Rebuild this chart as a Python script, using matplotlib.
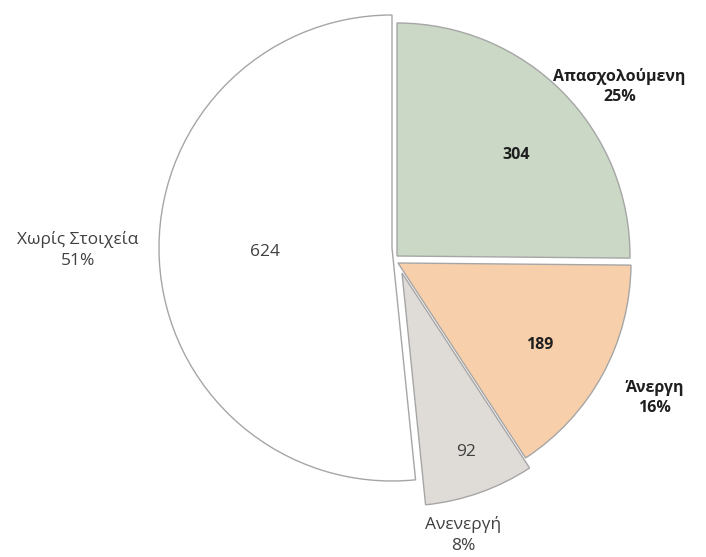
import numpy as np
import matplotlib
matplotlib.use('Agg')
import matplotlib.pyplot as plt

# ── Data ──────────────────────────────────────────────────────────────────────
categories = ['Απασχολούμενη', 'Άνεργη', 'Ανενεργή', 'Χωρίς Στοιχεία']
counts     = [304, 189, 92, 624]
percents   = ['25%', '16%', '8%', '51%']

# ── Style / layout ────────────────────────────────────────────────────────────
colors = ['#CAD8C5', '#F7CFAB', '#DFDBD7', '#FFFFFF']
bold   = [True, True, False, False]

R = 233.0                       # pie radius in pixels
base = (397, 256)               # pie centre in pixels (from top-left)
# slice displacement in pixels (dx right, dy down), like a 2-D explode
shift = [(0, 0), (1, 7), (5, 17), (-5, -8)]

# label layout: (radius, angle offset from bisector in degrees)
inner_pos = [(0.67, -4.6), (0.70, -1.4), (0.815, 0.2), (0.545, -1.3)]
outer_pos = [(1.20, -7.5), (1.245, 0.9), (1.155, -6.4), (1.348, -2.6)]

plt.rcParams['font.family'] = ['Open Sans', 'DejaVu Sans']

fig = plt.figure(figsize=(7.06, 5.57), dpi=100)
ax = fig.add_axes([0, 0, 1, 1])

wedges, _ = ax.pie(counts, colors=colors, startangle=90,
                   counterclock=False, radius=1.0,
                   wedgeprops=dict(edgecolor='#A6A6A6', linewidth=1.0))

for w, (dx, dy) in zip(wedges, shift):
    w.set_center((dx / R, -dy / R))

ax.set_xlim(-base[0] / R, (706 - base[0]) / R)
ax.set_ylim(-(557 - base[1]) / R, base[1] / R)
ax.set_aspect('equal')
ax.axis('off')

for w, n, pct, name, b, ip, op in zip(wedges, counts, percents, categories,
                                      bold, inner_pos, outer_pos):
    mid = 0.5 * (w.theta1 + w.theta2)
    wx, wy = w.center
    weight = 'bold' if b else 'normal'
    col = '#1F1F1F' if b else '#404040'
    fs = 11.5 if b else 12.5
    ls = 1.36 if b else 1.43
    a = np.deg2rad(mid + ip[1])
    ax.text(wx + ip[0] * np.cos(a), wy + ip[0] * np.sin(a), str(n),
            ha='center', va='center', fontsize=fs, fontweight=weight, color=col)
    a = np.deg2rad(mid + op[1])
    ax.text(wx + op[0] * np.cos(a), wy + op[0] * np.sin(a), f'{name}\n{pct}',
            ha='center', va='center', fontsize=fs, fontweight=weight, color=col,
            linespacing=ls)

fig.savefig('out.png', dpi=100)
